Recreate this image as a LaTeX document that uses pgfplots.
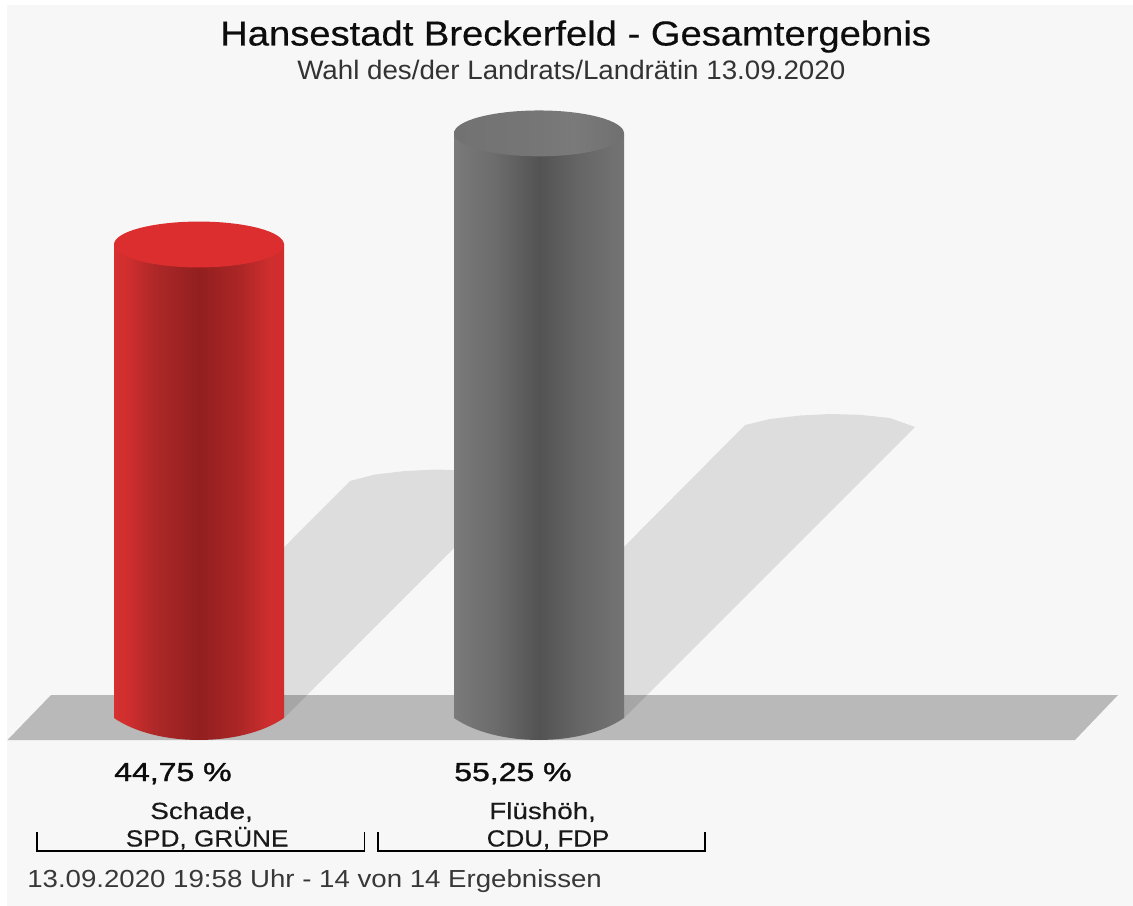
\documentclass[border=0pt]{standalone}
\usepackage{graphicx}
\usepackage{fontspec}
\setmainfont{Liberation Sans}
\newfontface\medfont[FakeBold=1.1]{Liberation Sans}
\newfontface\lightfont[FakeBold=0.4]{Liberation Sans}
\usepackage{pgfplots}
\usepackage{pgfplotstable}
\pgfplotsset{compat=1.18}
\definecolor{bgc}{HTML}{F7F7F7}
\definecolor{floorc}{HTML}{B9B9B9}
\definecolor{redtop}{HTML}{DC2E2E}
\pgfdeclarehorizontalshading{cylred}{100bp}{
 color(0bp)=(rgb,255:red,214;green,48;blue,48);
 color(25bp)=(rgb,255:red,214;green,48;blue,48);
 color(29bp)=(rgb,255:red,208;green,46;blue,46);
 color(37bp)=(rgb,255:red,174;green,40;blue,40);
 color(50bp)=(rgb,255:red,146;green,31;blue,31);
 color(62bp)=(rgb,255:red,172;green,38;blue,38);
 color(71bp)=(rgb,255:red,207;green,46;blue,46);
 color(75bp)=(rgb,255:red,210;green,45;blue,45);
 color(100bp)=(rgb,255:red,210;green,45;blue,45)}
\pgfdeclarehorizontalshading{cylgray}{100bp}{
 color(0bp)=(rgb,255:red,122;green,122;blue,122);
 color(25bp)=(rgb,255:red,122;green,122;blue,122);
 color(37bp)=(rgb,255:red,108;green,108;blue,108);
 color(50bp)=(rgb,255:red,83;green,83;blue,83);
 color(62bp)=(rgb,255:red,102;green,102;blue,102);
 color(75bp)=(rgb,255:red,116;green,116;blue,116);
 color(100bp)=(rgb,255:red,116;green,116;blue,116)}
\pgfdeclarehorizontalshading{topgrayshade}{100bp}{
 color(0bp)=(rgb,255:red,114;green,114;blue,114);
 color(25bp)=(rgb,255:red,114;green,114;blue,114);
 color(50bp)=(rgb,255:red,118;green,118;blue,118);
 color(60bp)=(rgb,255:red,122;green,122;blue,122);
 color(75bp)=(rgb,255:red,112;green,112;blue,112);
 color(100bp)=(rgb,255:red,112;green,112;blue,112)}
% 1 px = 0.75 pt
\pgfdeclareplotmark{topred}{\fill[redtop,draw=none] (0pt,0pt) ellipse[x radius=63.75pt,y radius=17.2pt];}
\pgfdeclareplotmark{topgray}{\shade[shading=topgrayshade,draw=none] (0pt,0pt) ellipse[x radius=63.75pt,y radius=17.2pt];}
\pgfdeclareplotmark{botred}{\shade[shading=cylred,draw=none] (-63.75pt,0.5pt) -- (-63.75pt,0pt) .. controls (-32pt,-22pt) and (32pt,-22pt) .. (63.75pt,0pt) -- (63.75pt,0.5pt) -- cycle;}
\pgfdeclareplotmark{botgray}{\shade[shading=cylgray,draw=none] (-63.75pt,0.5pt) -- (-63.75pt,0pt) .. controls (-32pt,-22pt) and (32pt,-22pt) .. (63.75pt,0pt) -- (63.75pt,0.5pt) -- cycle;}
\pgfplotstableread{
x y
199 44.75
}\schade
\pgfplotstableread{
x y
539 55.25
}\flueshoeh
\pgfplotstableread{
x y
199 0
}\schadebase
\pgfplotstableread{
x y
539 0
}\flueshoehbase
\newcommand{\txt}[3]{\resizebox{#1pt}{\height}{\fontsize{#2pt}{#2pt}\selectfont #3}}
\begin{document}
\begin{tikzpicture}
% pixel-space layer: page, floor, shadows, brackets, text
\begin{axis}[at={(0pt,0pt)},anchor=south west,scale only axis,width=849.75pt,height=679.5pt,
  xmin=0,xmax=1133,ymin=0,ymax=906,y dir=reverse,axis lines=none,clip=false]
\addplot[fill=white,draw=none] coordinates {(0,0)(1133,0)(1133,906)(0,906)} -- cycle;
\addplot[fill=bgc,draw=none] coordinates {(7,5)(1133,5)(1133,906)(7,906)} -- cycle;
\addplot[fill=floorc,draw=none] coordinates {(7.5,740)(1075,740)(1118,695)(51,695)} -- cycle;
\addplot[fill=black,fill opacity=0.1,draw=none] coordinates {(114,718)(350,481)(375,474.5)(405,471)(436,469.5)(478.5,471)(505,475)(521,481)(284,718)} -- cycle;
\addplot[fill=black,fill opacity=0.1,draw=none] coordinates {
(454,718)(745,425)(770,419)(800,415.5)(830,414)(860,414.8)(890,418)(915,427)(624,718)} -- cycle;
\addplot[black,line width=1.1pt] coordinates {(37,832)(37,851)(364.5,851)(364.5,832)};
\addplot[black,line width=1.1pt] coordinates {(378,832)(378,851)(705,851)(705,832)};
\node[anchor=base west,inner sep=0pt,text=black!95] at (axis cs:220,45.5) {\txt{533}{26}{\lightfont Hansestadt Breckerfeld - Gesamtergebnis}};
\node[anchor=base west,inner sep=0pt,text=black!80] at (axis cs:297,80) {\txt{411}{20}{Wahl des/der Landrats/Landrätin 13.09.2020}};
\node[anchor=base west,inner sep=0pt,text=black!95] at (axis cs:114,781) {\txt{88}{19.5}{\medfont 44,75 \%}};
\node[anchor=base west,inner sep=0pt,text=black!95] at (axis cs:454,781) {\txt{88}{19.5}{\medfont 55,25 \%}};
\node[anchor=base west,inner sep=0pt,text=black!90] at (axis cs:150,819) {\txt{77}{17.5}{\lightfont Schade,}};
\node[anchor=base west,inner sep=0pt,text=black!90] at (axis cs:125.5,846.5) {\txt{122}{17.5}{\lightfont SPD, GRÜNE}};
\node[anchor=base west,inner sep=0pt,text=black!90] at (axis cs:489,819) {\txt{80}{17.5}{\lightfont Flüshöh,}};
\node[anchor=base west,inner sep=0pt,text=black!90] at (axis cs:486.5,846.5) {\txt{92}{17.5}{\lightfont CDU, FDP}};
\node[anchor=base west,inner sep=0pt,text=black!78] at (axis cs:27,887) {\txt{431}{18.5}{13.09.2020 19:58 Uhr - 14 von 14 Ergebnissen}};
\end{axis}
% data layer: the two cylinders, value axis in percent
\begin{axis}[at={(0pt,0pt)},anchor=south west,scale only axis,width=849.75pt,height=679.5pt,
  xmin=0,xmax=1133,ymin=-17.77,ymax=67.86,axis lines=none,clip=false,bar width=170,bar shift=0pt]
\addplot[only marks,mark=botred,forget plot] table[x=x,y=y] {\schadebase};
\addplot[only marks,mark=botgray,forget plot] table[x=x,y=y] {\flueshoehbase};
\addplot[ybar,draw=none,shade,shading=cylred,mark=none] table[x=x,y=y] {\schade};
\addplot[ybar,draw=none,shade,shading=cylgray,mark=none] table[x=x,y=y] {\flueshoeh};
\addplot[only marks,mark=topred] table[x=x,y=y] {\schade};
\addplot[only marks,mark=topgray] table[x=x,y=y] {\flueshoeh};
\end{axis}
\end{tikzpicture}
\end{document}
